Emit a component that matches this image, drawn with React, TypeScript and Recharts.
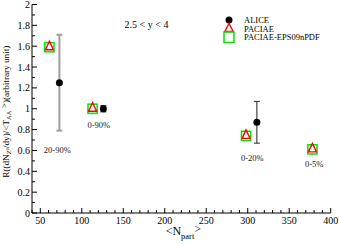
import { ErrorBar, Legend, ReferenceDot, Scatter, ScatterChart, XAxis, YAxis } from "recharts";

// ALICE measurements (split by error-bar colour)
const aliceLowX = [73];
const aliceLowY = [1.25];
const aliceLowErr = [0.46];
const aliceX = [126, 311];
const aliceY = [1.0, 0.87];
const aliceErr = [0.03, 0.2];

const paciaeX = [61, 113, 298, 378];
const paciaeY = [1.59, 1.0, 0.74, 0.61];
const epsX = [61, 113, 298, 378];
const epsY = [1.59, 1.0, 0.74, 0.61];

const centLabels = ["20-90%", "0-90%", "0-20%", "0-5%"];
const centLabelX = [70.5, 120.5, 305.5, 380];
const centLabelY = [0.6, 0.84, 0.53, 0.47];

const legendNames = ["ALICE", "PACIAE", "PACIAE-EPS09nPDF"];

const xTicks = Array.from({ length: 37 }, (_, i) => 40 + i * 10);
const yTicks = Array.from({ length: 21 }, (_, i) => i / 10);

const FONT = "'Liberation Serif', 'Times New Roman', serif";

const toPoints = (xs: number[], ys: number[], errs?: number[]) =>
  xs.map((x, i) => ({ x, y: ys[i], err: errs ? errs[i] : 0 }));

const isMajorX = (v: number) => v % 50 === 0;
const isMajorY = (v: number) => Math.round(v * 10) % 2 === 0;

const BottomTick = ({ x, y, payload }: any) => {
  const v = payload.value;
  const major = isMajorX(v);
  return (
    <g>
      <line x1={x} x2={x} y1={y} y2={y - (major ? 5 : 3)} stroke="#000" />
      {major && (
        <text x={x} y={y + 10.5} textAnchor="middle" fontSize={10} fontFamily={FONT} fill="#000">
          {v}
        </text>
      )}
    </g>
  );
};

const TopTick = ({ x, y, payload }: any) => (
  <line x1={x} x2={x} y1={y} y2={y + (isMajorX(payload.value) ? 5 : 3)} stroke="#000" />
);

const LeftTick = ({ x, y, payload }: any) => {
  const v = payload.value;
  const major = isMajorY(v);
  return (
    <g>
      <line x1={x} x2={x + (major ? 5 : 3)} y1={y} y2={y} stroke="#000" />
      {major && (
        <text x={x - 2} y={y + 3.5} textAnchor="end" fontSize={10} fontFamily={FONT} fill="#000">
          {String(Number(v.toFixed(1)))}
        </text>
      )}
    </g>
  );
};

const RightTick = ({ x, y, payload }: any) => (
  <line x1={x} x2={x - (isMajorY(payload.value) ? 5 : 3)} y1={y} y2={y} stroke="#000" />
);

const YTitle = ({ viewBox }: any) => {
  const cx = viewBox.x + 0.5;
  const cy = viewBox.y + viewBox.height / 2 + 3;
  return (
    <text
      x={cx}
      y={cy}
      transform={`rotate(-90 ${cx} ${cy})`}
      textAnchor="middle"
      fontSize={9.2}
      fontFamily={FONT}
      fill="#000"
    >
      R((dN
      <tspan dy={2.5} fontSize={6.5}>Z</tspan>
      <tspan dy={-2} fontSize={4.5}>0</tspan>
      <tspan dy={-0.5}>/dy)/&lt;T</tspan>
      <tspan dy={2.5} fontSize={6.5}>AA</tspan>
      <tspan dy={-4}> &gt;</tspan>
      <tspan dy={1.5}>)(arbitrary unit)</tspan>
    </text>
  );
};

const XTitle = ({ viewBox }: any) => {
  const cx = viewBox.x + viewBox.width / 2 + 2;
  return (
    <text x={cx} y={viewBox.y + 22} textAnchor="middle" fontSize={12} fontFamily={FONT} fill="#000">
      &lt;N
      <tspan dy={4} fontSize={8.5}>part</tspan>
      <tspan dy={-6}>&gt;</tspan>
    </text>
  );
};

const Dot = ({ cx, cy }: any) => <circle cx={cx} cy={cy} r={3.5} fill="#000" />;

const Triangle = ({ cx, cy }: any) => (
  <polygon
    points={`${cx},${cy - 6} ${cx - 4},${cy + 2.5} ${cx + 4},${cy + 2.5}`}
    fill="none"
    stroke="#ff0000"
    strokeWidth={1.4}
  />
);

const Square = ({ cx, cy }: any) => (
  <rect x={cx - 4.6} y={cy - 4.6} width={9.2} height={9.2} fill="none" stroke="#00e600" strokeWidth={1.5} />
);

const LegendBox = () => (
  <svg width={120} height={34} style={{ display: "block" }}>
    <circle cx={7} cy={7} r={3.5} fill="#000" />
    <polygon points="7,10.5 2.8,18.5 11.2,18.5" fill="none" stroke="#ff0000" strokeWidth={1.4} />
    <rect x={2} y={19} width={10} height={10.5} fill="none" stroke="#00e600" strokeWidth={1.5} />
    {legendNames.map((name, i) => (
      <text key={name} x={22} y={10 + i * 8.5} fontSize={8.5} fontFamily={FONT} fill="#000">
        {name}
      </text>
    ))}
  </svg>
);

export default function App() {
  return (
    <div style={{ position: "absolute", left: 0, top: 0, background: "#fff" }}>
      <ScatterChart
        width={339}
        height={244}
        margin={{ top: 4.5, right: 8.3, bottom: 7, left: 8 }}
        style={{ fontFamily: FONT }}
      >
        <XAxis
          type="number"
          dataKey="x"
          domain={[40, 400]}
          allowDataOverflow
          ticks={xTicks}
          interval={0}
          height={24}
          tickSize={0}
          tickMargin={0}
          tick={<BottomTick />}
          axisLine={{ stroke: "#000" }}
          label={{ content: (p: any) => <XTitle {...p} /> }}
        />
        <XAxis
          xAxisId="top"
          orientation="top"
          type="number"
          dataKey="x"
          domain={[40, 400]}
          allowDataOverflow
          ticks={xTicks}
          interval={0}
          height={0}
          tickSize={0}
          tickMargin={0}
          tick={<TopTick />}
          axisLine={{ stroke: "#000" }}
        />
        <YAxis
          type="number"
          dataKey="y"
          domain={[0, 2]}
          allowDataOverflow
          ticks={yTicks}
          interval={0}
          width={24}
          tickSize={0}
          tickMargin={0}
          tick={<LeftTick />}
          axisLine={{ stroke: "#000" }}
          label={{ content: (p: any) => <YTitle {...p} /> }}
        />
        <YAxis
          yAxisId="right"
          orientation="right"
          type="number"
          dataKey="y"
          domain={[0, 2]}
          allowDataOverflow
          ticks={yTicks}
          interval={0}
          width={0}
          tickSize={0}
          tickMargin={0}
          tick={<RightTick />}
          axisLine={{ stroke: "#000" }}
        />

        <Scatter name="PACIAE-EPS09nPDF" data={toPoints(epsX, epsY)} shape={<Square />} isAnimationActive={false} />
        <Scatter name="PACIAE" data={toPoints(paciaeX, paciaeY)} shape={<Triangle />} isAnimationActive={false} />
        <Scatter name="ALICE" data={toPoints(aliceLowX, aliceLowY, aliceLowErr)} shape={<Dot />} isAnimationActive={false}>
          <ErrorBar dataKey="err" direction="y" width={3} stroke="#a0a0a0" strokeWidth={2} />
        </Scatter>
        <Scatter name="ALICE " data={toPoints(aliceX, aliceY, aliceErr)} shape={<Dot />} isAnimationActive={false}>
          <ErrorBar dataKey="err" direction="y" width={3} stroke="#444" strokeWidth={1.2} />
        </Scatter>

        {centLabels.map((txt, i) => (
          <ReferenceDot
            key={txt}
            x={centLabelX[i]}
            y={centLabelY[i]}
            r={0}
            fill="none"
            stroke="none"
            ifOverflow="visible"
            label={{ value: txt, position: "center", fontSize: 8.5, fontFamily: FONT, fill: "#222" }}
          />
        ))}
        <ReferenceDot
          x={178}
          y={1.805}
          r={0}
          fill="none"
          stroke="none"
          label={{ value: "2.5 < y < 4", position: "center", fontSize: 10, fontFamily: FONT, fill: "#000" }}
        />

        <Legend
          layout="vertical"
          align="center"
          verticalAlign="middle"
          wrapperStyle={{ position: "absolute", left: 222, top: 13, width: 120, margin: 0 }}
          content={() => <LegendBox />}
        />
      </ScatterChart>
    </div>
  );
}
